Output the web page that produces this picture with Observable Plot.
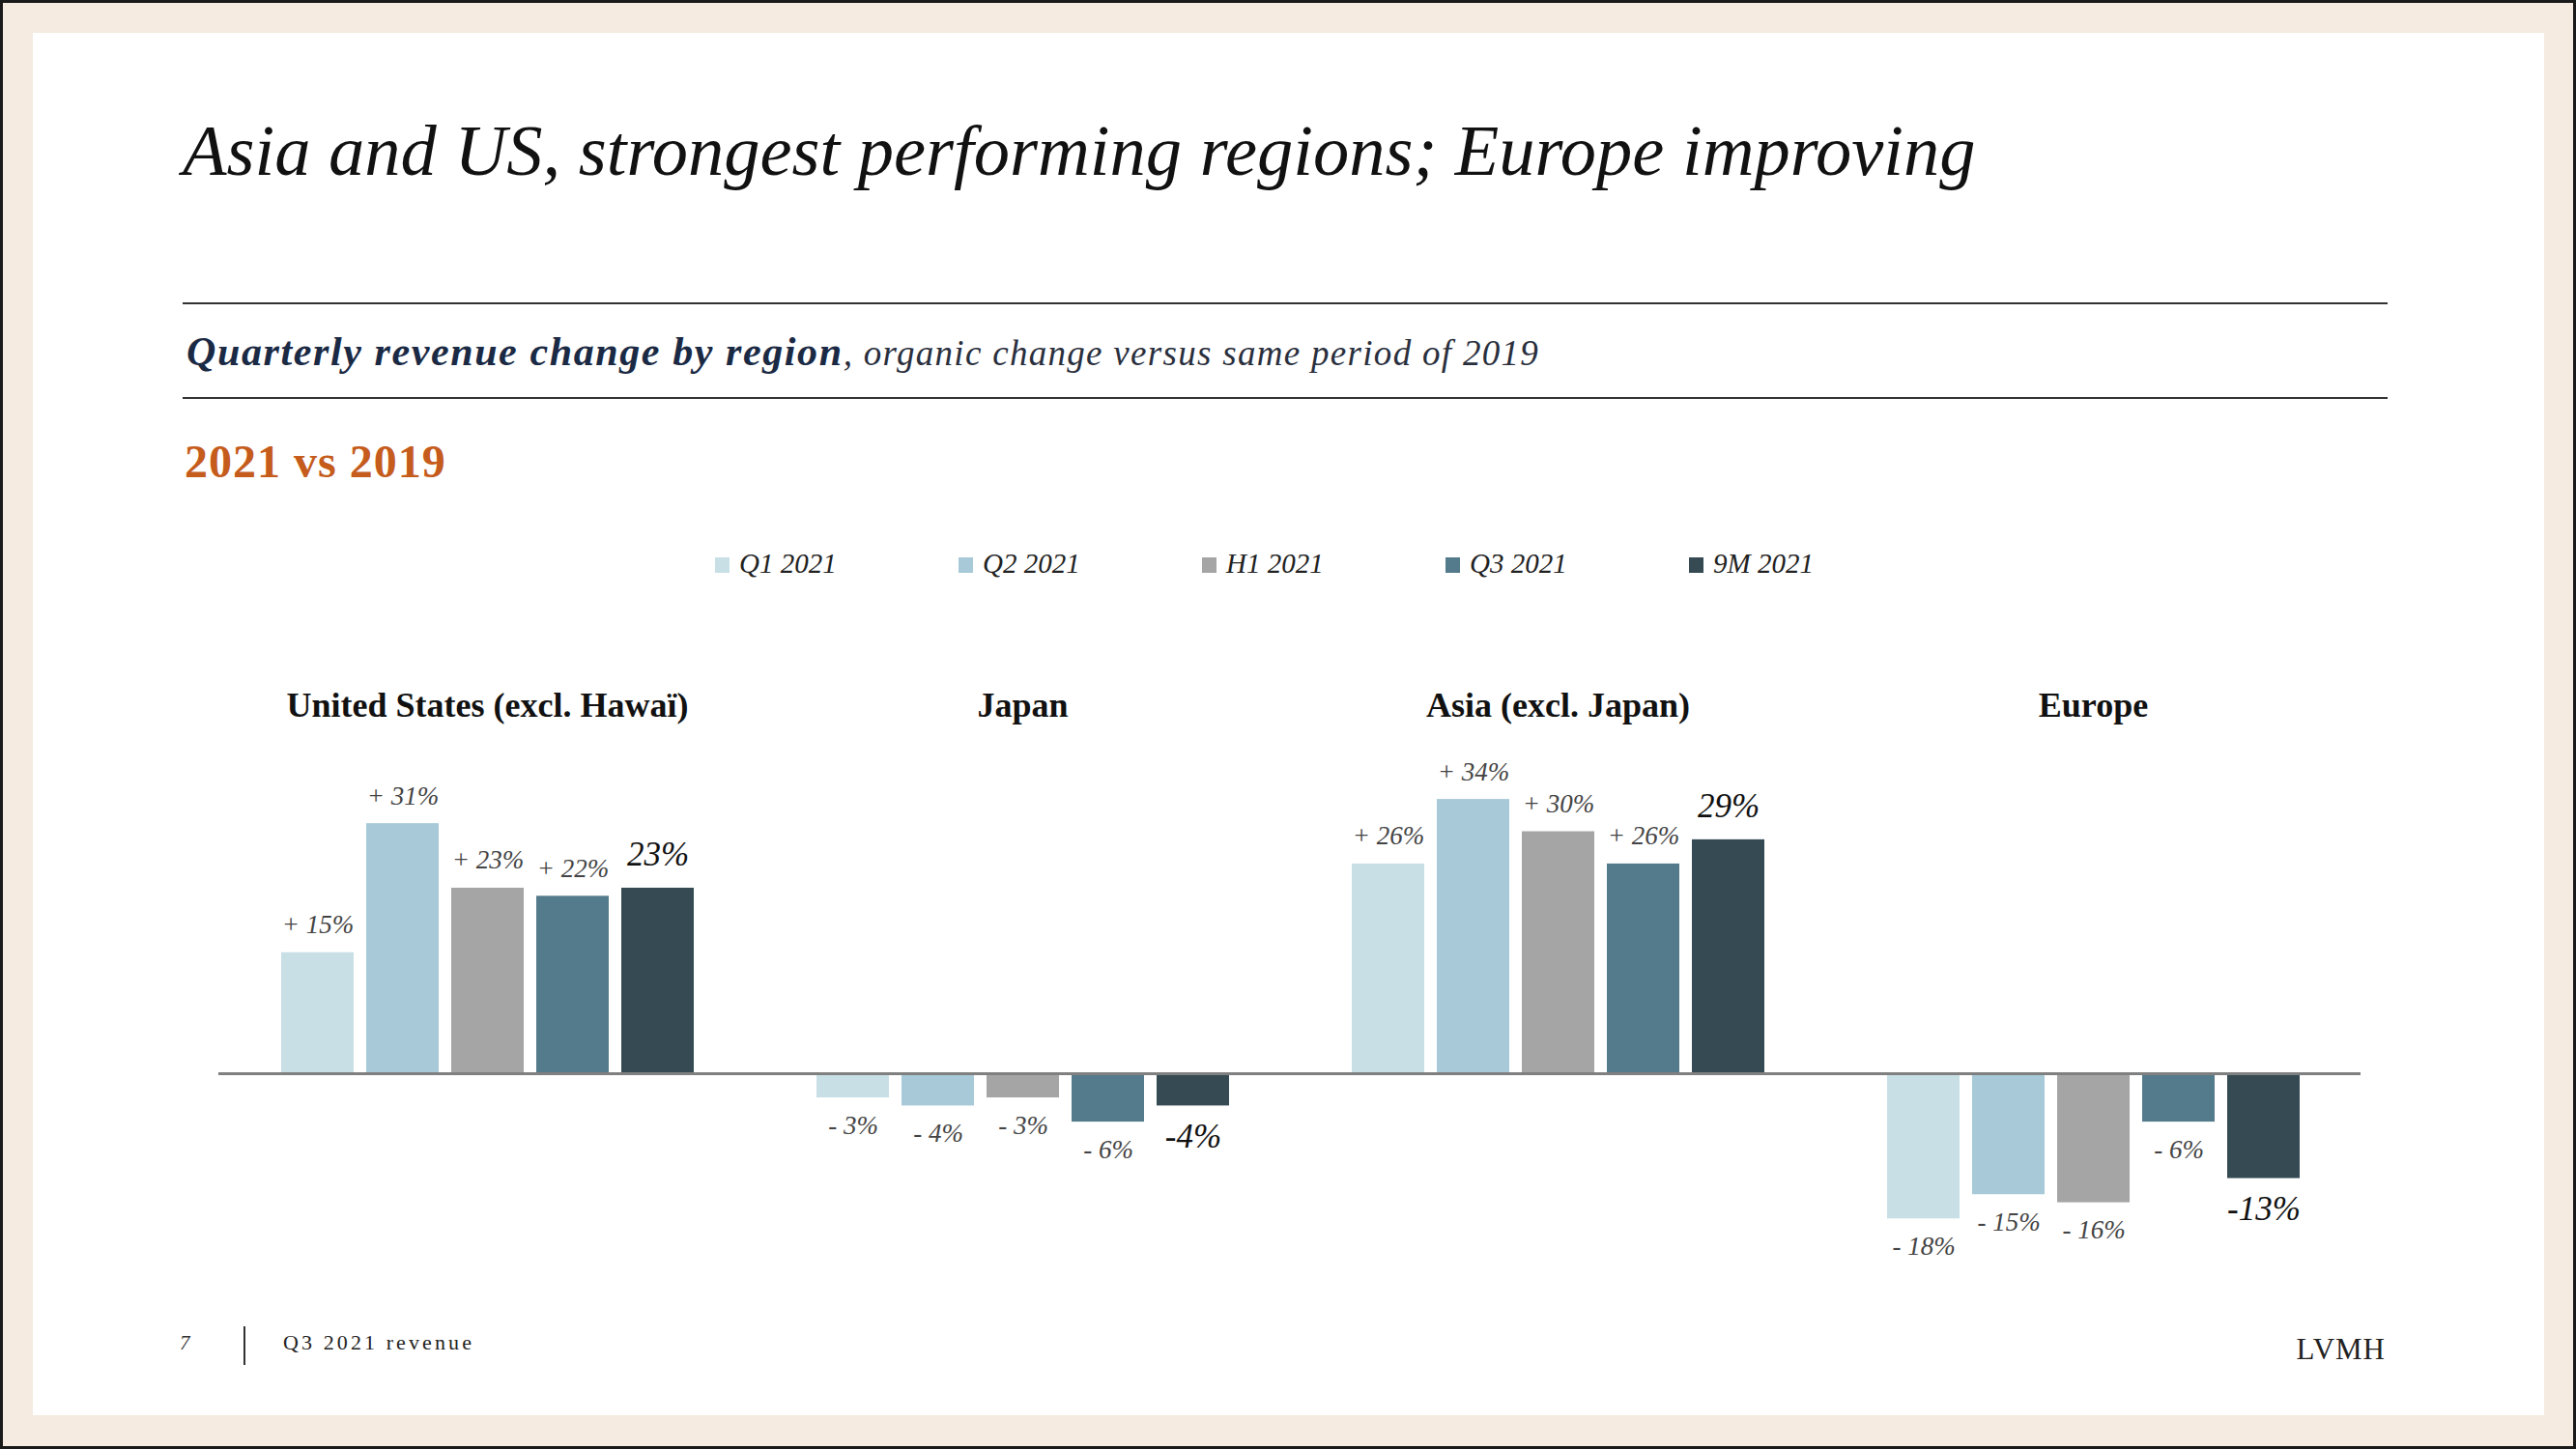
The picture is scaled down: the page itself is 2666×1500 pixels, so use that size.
<!DOCTYPE html>
<html><head><meta charset="utf-8">
<script src="https://cdn.jsdelivr.net/npm/d3@7"></script>
<script src="https://cdn.jsdelivr.net/npm/@observablehq/plot@0.6"></script>
<style>
html,body{margin:0;padding:0;}
body{width:2666px;height:1500px;position:relative;background:#1a1a1a;overflow:hidden;font-family:"Liberation Serif",serif;}
#frame{position:absolute;left:3px;top:3px;width:2660px;height:1494px;background:#f5ebe0;}
#panel{position:absolute;left:34px;top:34px;width:2599px;height:1431px;background:#fff;}
.abs{position:absolute;white-space:nowrap;line-height:1;}
.hr{position:absolute;left:189px;width:2282px;height:2px;background:#333;}
#legend{position:absolute;left:740px;top:569px;display:flex;}
.item{width:252px;display:flex;align-items:flex-start;font-style:italic;font-size:29px;line-height:1;color:#222;}
.sw{width:15px;height:16px;margin-top:8px;margin-right:10px;}
#chart{position:absolute;left:0;top:650px;}
</style></head><body>
<div id="frame"></div>
<div id="panel"></div>
<div class="abs" style="left:189px;top:119px;font-size:74.5px;font-style:italic;color:#111;">Asia and US, strongest performing regions; Europe improving</div>
<div class="hr" style="top:313px;"></div>
<div class="abs" style="left:193px;top:343px;font-size:42px;font-style:italic;color:#1b2a44;"><span style="font-weight:bold;letter-spacing:1.6px;">Quarterly revenue change by region</span><span style="font-size:37px;letter-spacing:1.3px;color:#2a2f3d;">, organic change versus same period of 2019</span></div>
<div class="hr" style="top:411px;"></div>
<div class="abs" style="left:191px;top:454px;font-size:48px;font-weight:bold;letter-spacing:1px;color:#c55c1c;">2021 vs 2019</div>
<div id="legend"></div>
<div id="chart"></div>
<div class="abs" style="left:186px;top:1380px;font-size:21px;font-style:italic;color:#333;">7</div>
<div style="position:absolute;left:252px;top:1373px;width:1.5px;height:40px;background:#333;"></div>
<div class="abs" style="left:293px;top:1379px;font-size:22px;letter-spacing:3.1px;color:#222;">Q3 2021 revenue</div>
<div class="abs" style="right:197px;top:1381px;font-size:31px;letter-spacing:1px;color:#222;">LVMH</div>
<script>
const regions = ["United States (excl. Hawaï)", "Japan", "Asia (excl. Japan)", "Europe"];
const periods = ["Q1 2021", "Q2 2021", "H1 2021", "Q3 2021", "9M 2021"];
const usValues = [15, 31, 23, 22, 23];
const japanValues = [-3, -4, -3, -6, -4];
const asiaValues = [26, 34, 30, 26, 29];
const europeValues = [-18, -15, -16, -6, -13];
const periodColors = ["#c8dfe6", "#a7c9d8", "#a5a5a5", "#547b8c", "#354a53"];

const series = [usValues, japanValues, asiaValues, europeValues];
const rows = [];
regions.forEach((r, i) => periods.forEach((p, j) => rows.push({region: r, period: p, value: series[i][j]})));
const label = d => d.period === "9M 2021" ? `${d.value}%` : (d.value >= 0 ? `+ ${d.value}%` : `- ${Math.abs(d.value)}%`);
const isTotal = d => d.period === "9M 2021";

// legend
const legend = document.getElementById("legend");
periods.forEach((p, i) => {
  const it = document.createElement("div"); it.className = "item";
  const sw = document.createElement("div"); sw.className = "sw"; sw.style.background = periodColors[i];
  it.appendChild(sw);
  const t = document.createElement("span"); t.textContent = p; it.appendChild(t);
  legend.appendChild(it);
});

const common = {fx: "region", x: "period", y: "value", text: label, fontStyle: "italic", fontFamily: "Liberation Serif"};
const chart = Plot.plot({
  width: 2666, height: 700,
  marginLeft: 288, marginRight: 284, marginTop: 127, marginBottom: 72,
  fx: {domain: regions, paddingInner: 0.227, paddingOuter: 0, axis: null, label: null},
  x: {domain: periods, paddingInner: 0.1525, paddingOuter: 0, axis: null, label: null},
  y: {domain: [-20, 40], axis: null},
  color: {domain: periods, range: periodColors},
  style: {fontFamily: "Liberation Serif", background: "transparent", overflow: "visible"},
  marks: [
    Plot.barY(rows, {fx: "region", x: "period", y: "value", fill: "period"}),
    Plot.ruleY([0], {stroke: "#808080", strokeWidth: 3, insetLeft: -64, insetRight: -63}),
    Plot.text(regions, {fx: d => d, text: d => d, frameAnchor: "top", lineAnchor: "bottom", dy: -36, fontSize: 36, fontWeight: "bold", fill: "#111"}),
    Plot.text(rows.filter(d => d.value >= 0 && !isTotal(d)), {...common, lineAnchor: "bottom", dy: -20, fontSize: 27, fill: "#444"}),
    Plot.text(rows.filter(d => d.value >= 0 && isTotal(d)), {...common, lineAnchor: "bottom", dy: -23, fontSize: 35, fill: "#111"}),
    Plot.text(rows.filter(d => d.value < 0 && !isTotal(d)), {...common, lineAnchor: "top", dy: 18, fontSize: 27, fill: "#444"}),
    Plot.text(rows.filter(d => d.value < 0 && isTotal(d)), {...common, lineAnchor: "top", dy: 18, fontSize: 35, fill: "#111"})
  ]
});
document.getElementById("chart").appendChild(chart);
</script>
</body></html>
